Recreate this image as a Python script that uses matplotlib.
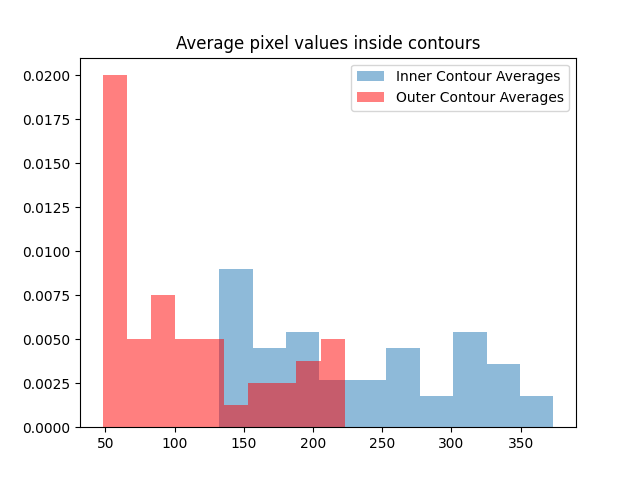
import numpy as np
import matplotlib.pyplot as plt

inner_edges = [132.2, 156.4, 180.5, 204.7, 228.8, 253.0, 277.1, 301.3, 325.4, 349.6, 373.7]
inner_density = [0.0090, 0.0045, 0.0054, 0.0027, 0.0027, 0.0045, 0.0018, 0.0054, 0.0036, 0.0018]

outer_edges = [48.0, 65.5, 83.0, 100.5, 118.0, 135.5, 153.0, 170.5, 188.0, 205.5, 223.0]
outer_density = [0.0200, 0.0050, 0.0075, 0.0050, 0.0050, 0.00125, 0.0025, 0.0025, 0.00375, 0.0050]

inner_centers = (np.array(inner_edges[:-1]) + np.array(inner_edges[1:])) / 2
outer_centers = (np.array(outer_edges[:-1]) + np.array(outer_edges[1:])) / 2

fig, ax = plt.subplots(figsize=(6.4, 4.8), dpi=100)
ax.hist(inner_centers, bins=inner_edges, weights=inner_density, alpha=0.5, label="Inner Contour Averages")
ax.hist(outer_centers, bins=outer_edges, weights=outer_density, alpha=0.5, color="r", label="Outer Contour Averages")
ax.set_title("Average pixel values inside contours")
ax.legend(loc="upper right")
plt.savefig("out.png")
